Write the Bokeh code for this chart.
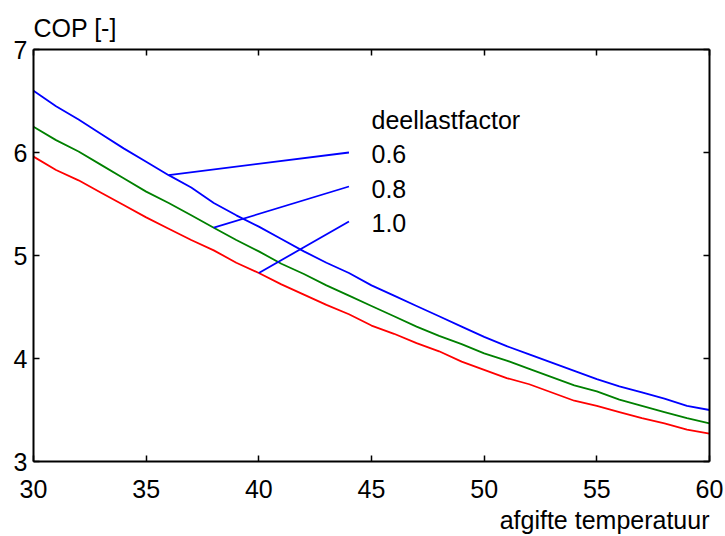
from bokeh.plotting import figure
from bokeh.models import LinearAxis, FixedTicker, Title, ColumnDataSource
from bokeh.core.properties import value
from bokeh.embed import file_html
from bokeh.resources import INLINE

# ---- data ----
temps = list(range(30, 61))
cop_06 = [6.60, 6.45, 6.32, 6.18, 6.04, 5.91, 5.78, 5.66, 5.51, 5.39, 5.28, 5.16, 5.04, 4.93, 4.83, 4.71,
          4.61, 4.51, 4.41, 4.31, 4.21, 4.12, 4.04, 3.96, 3.88, 3.80, 3.73, 3.67, 3.61, 3.54, 3.50]
cop_08 = [6.25, 6.12, 6.01, 5.88, 5.75, 5.62, 5.51, 5.39, 5.27, 5.15, 5.04, 4.92, 4.82, 4.71, 4.61, 4.51,
          4.41, 4.31, 4.22, 4.14, 4.05, 3.98, 3.90, 3.82, 3.74, 3.68, 3.60, 3.54, 3.48, 3.42, 3.37]
cop_10 = [5.96, 5.83, 5.73, 5.61, 5.49, 5.37, 5.26, 5.15, 5.05, 4.93, 4.83, 4.72, 4.62, 4.52, 4.43, 4.32,
          4.24, 4.15, 4.07, 3.97, 3.89, 3.81, 3.75, 3.67, 3.59, 3.54, 3.48, 3.42, 3.37, 3.31, 3.27]
x_ticks = [30, 35, 40, 45, 50, 55, 60]
y_ticks = [3, 4, 5, 6, 7]
factor_labels = ["0.6", "0.8", "1.0"]
legend_title = "deellastfactor"
x_title = "afgifte temperatuur"
y_title = "COP [-]"

FONT = "Liberation Sans"
FS = "25px"

p = figure(width=725, height=536, x_range=(30, 60), y_range=(3, 7),
           output_backend="svg", toolbar_location=None,
           min_border_left=33, min_border_right=16, min_border_top=49, min_border_bottom=75)
p.xgrid.visible = False
p.ygrid.visible = False
p.outline_line_color = None
p.background_fill_color = "white"
p.border_fill_color = "white"

def style_axis(ax, ticks, labels=True):
    ax.ticker = FixedTicker(ticks=ticks)
    ax.axis_line_color = "black"
    ax.axis_line_width = 2
    ax.major_tick_line_color = "black"
    ax.major_tick_line_width = 1.5
    ax.major_tick_in = 6
    ax.major_tick_out = 0
    ax.minor_tick_line_color = None
    ax.major_label_text_font = FONT
    if labels:
        ax.major_label_text_font_size = FS
        ax.major_label_text_color = "black"
        ax.major_label_standoff = 6
    else:
        ax.major_label_text_font_size = "1px"
        ax.major_label_text_color = None
        ax.major_label_standoff = 0

xax = p.xaxis[0]
style_axis(xax, x_ticks)
xax.major_label_standoff = 18
style_axis(p.yaxis[0], y_ticks)
top_ax = LinearAxis()
right_ax = LinearAxis()
style_axis(top_ax, x_ticks, labels=False)
style_axis(right_ax, y_ticks, labels=False)
p.add_layout(top_ax, "above")
p.add_layout(right_ax, "right")

colors = ["#0000ff", "#008000", "#ff0000"]
for ys, c in zip([cop_06, cop_08, cop_10], colors):
    p.line(temps, ys, line_color=c, line_width=1.8)

# pointer lines from curves to labels
point_temps = [36, 38, 40]
curves = [cop_06, cop_08, cop_10]
x0 = point_temps
y0 = [cv[temps.index(t)] for cv, t in zip(curves, point_temps)]
x1 = [44, 44, 44]
y1 = [6.0, 5.67, 5.33]
p.segment(x0=x0, y0=y0, x1=x1, y1=y1, line_color="#0000ff", line_width=1.8)

lab_src = ColumnDataSource(dict(x=[45, 45, 45, 45], y=[6.32, 5.99, 5.65, 5.32],
                                t=[legend_title] + factor_labels))
p.text(x="x", y="y", text="t", source=lab_src, text_font=value(FONT), text_font_size=value(FS),
       text_baseline="middle", text_align="left", text_color="black")

p.title.text = y_title
p.title.align = "left"
p.title.text_font = FONT
p.title.text_font_size = FS
p.title.text_font_style = "normal"
p.title.text_color = "black"
p.title.standoff = 15

p.add_layout(Title(text=x_title, align="right", text_font=FONT, text_font_size=FS,
                   text_font_style="normal", text_color="black", standoff=6), "below")

open("out.html", "w").write(file_html(p, INLINE))
